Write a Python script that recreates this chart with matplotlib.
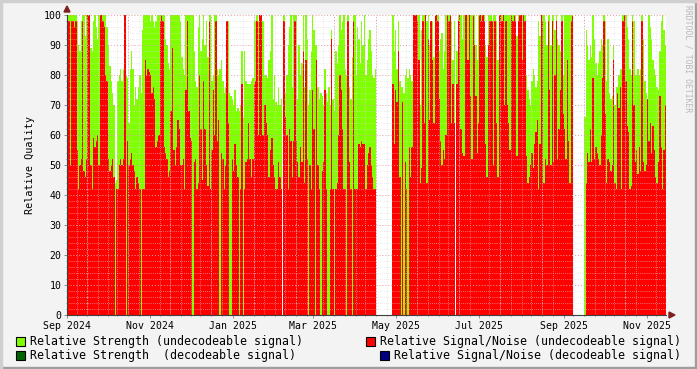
#==========================================================================
# Relative signal quality, RRDtool style daily bars
#==========================================================================
import numpy as np
import pandas as pd
import matplotlib
matplotlib.use('Agg')
import matplotlib.pyplot as plt
import matplotlib.dates as mdates
from matplotlib.patches import Rectangle

nan = np.nan

#%%
#==========================================================================
# Data (one value per day, starting 2024-09-01)
#==========================================================================
start_date = '2024-09-01'

# Relative Signal/Noise (undecodeable signal)
snr_undecodeable = [
    # Sep 2024
    100, 98, 50, 98, 98, 96, 98, 55, 42, 50, 52, 98, 48, 46, 52, 100, 100, 50, 42, 59,
    56, 58, 60, 50, 100, 100, 98, 96, 80, 78,
    # Oct 2024
    52, 48, 50, 52, 46, 0, 42, 42, 50, 52, 50, 52, 100, 0, 58, 50, 52, 54, 50, 48,
    42, 46, 44, 42, 0, 42, 42, 85, 80, 82, 81,
    # Nov 2024
    80, 74, 76, 72, 56, 58, 60, 98, 100, 98, 56, 54, 52, 46, 48, 68, 89, 55, 50, 56,
    65, 62, 50, 50, 52, 42, 75, 98, 68, 59,
    # Dec 2024
    58, 0, 51, 52, 42, 44, 80, 62, 45, 78, 62, 50, 43, 98, 42, 55, 75, 60, 98, 58,
    65, 0, 54, 52, 42, 50, 98, 64, 0, 0, 52,
    # Jan 2025
    48, 57, 50, 46, 0, 42, 77, 0, 42, 51, 52, 64, 52, 46, 52, 77, 78, 98, 60, 100,
    100, 60, 60, 70, 64, 60, 46, 55, 59, 50, 46,
    # Feb 2025
    42, 42, 51, 46, 42, nan, 98, 66, 60, 42, 62, 58, 46, 58, 98, 58, 51, 46, 56, 51,
    88, 44, 85, 52, 0, 50, 42, 75,
    # Mar 2025
    62, 0, 85, 50, 42, 0, 48, 51, 75, 42, 0, 0, 42, 92, 42, 0, 42, 44, 60, 80,
    75, 62, 42, 42, 0, 98, 51, 42, 0, 98, 42,
    # Apr 2025
    42, 42, 57, 56, 58, 57, 57, 42, 50, 54, 56, 50, 46, 42, 42, nan, nan, nan, nan, nan,
    nan, nan, nan, nan, nan, nan, nan, 77, 57, 75,
    # May 2025
    71, 88, 46, 0, 71, 0, 51, 42, 0, 56, 46, 56, 100, 100, 100, 98, 85, 44, 49, 98,
    64, 100, 44, 92, 65, 98, 85, 64, 100, 100, 98,
    # Jun 2025
    72, 58, 50, 55, 52, 60, 100, 98, 100, 64, 77, 64, nan, 77, 98, 100, 62, 54, 53, 100,
    100, 85, 100, 73, 52, 100, 90, 73, 54, 64,
    # Jul 2025
    100, 98, 100, 98, 57, 46, 90, 98, 98, 98, 50, 98, 64, 46, 100, 100, 98, 100, 70, 98,
    70, 64, 55, 100, 98, 100, 98, 53, 98, 100, 100,
    # Aug 2025
    85, 100, 98, 53, 44, 46, 50, 54, 49, 57, 61, 65, 42, 57, 100, 98, 44, 52, 50, 98,
    75, 50, 98, 51, 80, 98, 52, 62, 75, 98, 67,
    # Sep 2025
    62, 52, 85, 58, 44, 98, 100, nan, nan, nan, nan, nan, nan, nan, nan, 0, 44, 54, 51, 62,
    51, 79, 52, 56, 54, 52, 50, 60, 79, 98,
    # Oct 2025
    67, 44, 52, 51, 48, 50, 85, 44, 42, 74, 69, 76, 42, 98, 100, 78, 63, 61, 42, 43,
    98, 70, 51, 55, 47, 56, 48, 98, 51, 48, 50,
    # Nov 2025
    72, 58, 64, 54, 63, 55, 46, 44, 51, 73, 56, 42, 55, 70,
]

# Relative Strength (undecodeable signal)
strength_undecodeable = [
    # Sep 2024
    100, 100, 100, 100, 100, 100, 100, 98, 90, 88, 98, 100, 100, 93, 100, 100, 100, 89, 88, 98,
    100, 96, 92, 100, 100, 100, 100, 100, 100, 96,
    # Oct 2024
    90, 83, 78, 74, 70, 44, 45, 78, 80, 82, 78, 82, 100, 80, 79, 64, 82, 88, 82, 70,
    76, 72, 76, 80, 74, 95, 100, 100, 100, 100, 100,
    # Nov 2024
    98, 100, 98, 96, 98, 100, 100, 100, 100, 100, 100, 92, 90, 84, 82, 100, 100, 100, 100, 100,
    100, 100, 98, 86, 82, 80, 100, 100, 100, 100,
    # Dec 2024
    100, 100, 88, 78, 76, 96, 100, 88, 92, 100, 90, 98, 86, 100, 100, 78, 80, 100, 100, 82,
    80, 82, 85, 78, 74, 76, 98, 98, 74, 73, 72,
    # Jan 2025
    70, 75, 68, 69, 68, 70, 88, 66, 88, 78, 77, 77, 77, 78, 79, 98, 98, 100, 98, 100,
    100, 98, 98, 80, 80, 79, 85, 88, 100, 72, 80,
    # Feb 2025
    71, 70, 76, 70, 72, nan, 100, 74, 80, 90, 96, 100, 76, 100, 100, 100, 72, 90, 80, 84,
    100, 76, 100, 92, 70, 75, 88, 100,
    # Mar 2025
    95, 90, 90, 76, 72, 74, 73, 70, 82, 74, 71, 76, 70, 95, 72, 68, 88, 84, 90, 100,
    95, 98, 100, 82, 80, 100, 76, 72, 86, 100, 100,
    # Apr 2025
    80, 96, 92, 84, 98, 90, 100, 80, 85, 92, 95, 88, 80, 79, 82, nan, nan, nan, nan, nan,
    nan, nan, nan, nan, nan, nan, nan, 100, 88, 95,
    # May 2025
    82, 98, 78, 76, 76, 74, 80, 82, 79, 82, 80, 78, 100, 100, 100, 100, 100, 70, 95, 100,
    100, 100, 98, 100, 90, 98, 98, 86, 100, 100, 100,
    # Jun 2025
    88, 92, 94, 82, 88, 100, 100, 100, 100, 98, 85, 98, nan, 88, 100, 100, 100, 92, 100, 100,
    100, 100, 100, 100, 100, 100, 100, 90, 85, 100,
    # Jul 2025
    100, 100, 100, 100, 90, 86, 100, 100, 100, 98, 100, 100, 98, 85, 100, 100, 100, 100, 100, 100,
    100, 100, 100, 100, 100, 100, 100, 93, 100, 100, 100,
    # Aug 2025
    100, 100, 100, 80, 75, 72, 70, 78, 82, 80, 76, 78, 98, 93, 100, 100, 100, 98, 90, 100,
    100, 90, 100, 100, 95, 100, 92, 90, 88, 100, 80,
    # Sep 2025
    100, 100, 100, 100, 100, 100, 100, nan, nan, nan, nan, nan, nan, nan, nan, 66, 95, 90, 85, 90,
    86, 100, 92, 84, 80, 84, 88, 92, 90, 100,
    # Oct 2025
    98, 78, 92, 74, 72, 73, 90, 70, 76, 76, 80, 82, 82, 100, 100, 100, 96, 92, 82, 80,
    100, 98, 80, 80, 82, 80, 82, 100, 92, 78, 74,
    # Nov 2025
    70, 100, 96, 92, 85, 82, 80, 76, 75, 88, 98, 100, 95, 90,
]

series_labels = [
    'Relative Strength (undecodeable signal)',
    'Relative Signal/Noise (undecodeable signal)',
    'Relative Strength  (decodeable signal)',
    'Relative Signal/Noise (decodeable signal)',
]
series_colors = ['#80FF00', '#FF0000', '#006400', '#000080']

y_ticks = list(range(0, 101, 10))
x_label_months = ['2024-09-01', '2024-11-01', '2025-01-01', '2025-03-01',
                  '2025-05-01', '2025-07-01', '2025-09-01', '2025-11-01']

dates = pd.date_range(start_date, periods=len(snr_undecodeable), freq='D')

#%%
#==========================================================================
# Plot
#==========================================================================
mono = 'DejaVu Sans Mono'
fig = plt.figure(figsize=(6.97, 3.69), dpi=100, facecolor='#F3F3F3')
W, H = 697, 369
ax = fig.add_axes([67 / W, 54 / H, 599 / W, 300 / H])
ax.set_facecolor('white')

ax.bar(dates, strength_undecodeable, width=1.0, align='edge',
       color=series_colors[0], linewidth=0, zorder=1)
ax.bar(dates, snr_undecodeable, width=1.0, align='edge',
       color=series_colors[1], linewidth=0, zorder=2)

ax.set_ylim(0, 100)
ax.set_xlim(pd.Timestamp(start_date), dates[-1] + pd.Timedelta(days=1))

# y grid
ax.set_yticks(y_ticks)
ax.set_yticklabels([str(v) for v in y_ticks], family=mono, fontsize=7.1)
ax.set_yticks(range(0, 101, 2), minor=True)
# x grid: weekly minor, mid-month major, labels every two months
ax.xaxis.set_minor_locator(mdates.DayLocator(bymonthday=[1, 8, 16, 24]))
major_lines = pd.date_range('2024-08-16', '2025-12-16', freq='MS') + pd.Timedelta(days=15)
for d in major_lines:
    ax.axvline(d, color='#E0A0A0', linestyle=(0, (1, 2)), linewidth=0.7, zorder=4)
for v in y_ticks[1:]:
    ax.axhline(v, color='#E0A0A0', linestyle=(0, (1, 2)), linewidth=0.7, zorder=4)
ax.grid(which='minor', color='#D8D8D8', linestyle=(0, (1, 2)), linewidth=0.5, zorder=3)
ax.set_axisbelow(False)

label_dates = pd.to_datetime(x_label_months)
ax.set_xticks(label_dates)
ax.set_xticklabels([d.strftime('%b %Y') for d in label_dates], family=mono, fontsize=7.1)

ax.tick_params(which='both', length=2, width=0.6, color='#808080', pad=2)
ax.tick_params(which='minor', length=1)

for s in ['top', 'right']:
    ax.spines[s].set_visible(False)
for s in ['left', 'bottom']:
    ax.spines[s].set_color('#404040')
    ax.spines[s].set_linewidth(0.8)
    ax.spines[s].set_zorder(5)

# axis arrows
fig.patches.append(plt.Polygon([[64 / W, 1 - 12 / H], [70 / W, 1 - 12 / H], [67 / W, 1 - 6 / H]],
                               closed=True, transform=fig.transFigure, color='#7F1F1F'))
fig.patches.append(plt.Polygon([[669 / W, 1 - 312 / H], [669 / W, 1 - 318 / H], [675 / W, 1 - 315 / H]],
                               closed=True, transform=fig.transFigure, color='#7F1F1F'))

ax.set_ylabel('Relative Quality', family=mono, fontsize=7.3, labelpad=6)

# watermark
fig.text(688 / W, 1 - 5 / H, 'RRDTOOL / TOBI OETIKER', rotation=270, ha='center', va='top',
         family=mono, fontsize=5.8, color='#B8B8B8')

# legend
legend_pos = [(16, 341), (366, 341), (16, 355), (380, 355)]
for (lx, ly), label, col in zip(legend_pos, series_labels, series_colors):
    fig.patches.append(Rectangle((lx / W, 1 - (ly + 5) / H), 9 / W, 9 / H,
                                 transform=fig.transFigure, facecolor=col,
                                 edgecolor='black', linewidth=0.8))
    fig.text((lx + 14) / W, 1 - ly / H, label, ha='left', va='center',
             family=mono, fontsize=8.4, color='black')

# frame shading
fig.patches.append(Rectangle((0, 0), 1, 2 / H, transform=fig.transFigure, color='#9E9E9E'))
fig.patches.append(Rectangle((1 - 2 / W, 0), 2 / W, 1, transform=fig.transFigure, color='#9E9E9E'))
fig.patches.append(Rectangle((0, 1 - 2 / H), 1, 2 / H, transform=fig.transFigure, color='#CFCFCF'))
fig.patches.append(Rectangle((0, 0), 2 / W, 1, transform=fig.transFigure, color='#CFCFCF'))

fig.savefig('out.png', dpi=100, facecolor=fig.get_facecolor())
